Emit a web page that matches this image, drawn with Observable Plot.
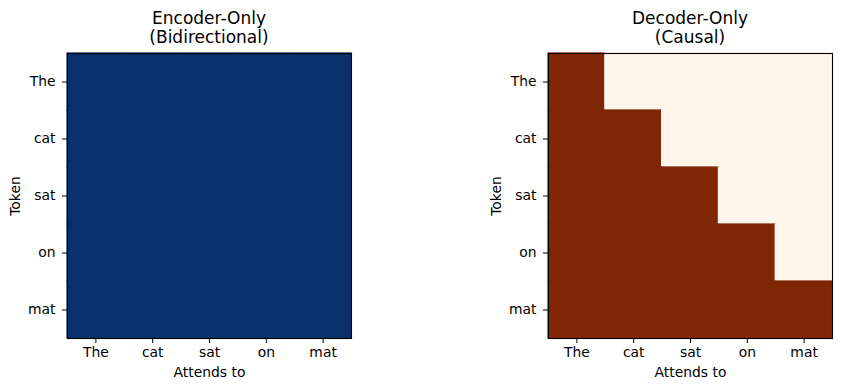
<!DOCTYPE html>
<html>
<head>
<meta charset="utf-8">
<script src="https://cdn.jsdelivr.net/npm/d3@7"></script>
<script src="https://cdn.jsdelivr.net/npm/@observablehq/plot@0.6"></script>
<style>
  body { margin: 0; background: white; }
  #wrap { position: relative; width: 841px; height: 390px; background: white; font-family: "DejaVu Sans", sans-serif; }
  .panel { position: absolute; top: 0; }
  .title { position: absolute; top: 9px; width: 300px; text-align: center; font-size: 17px; line-height: 19px; color: black; }
</style>
</head>
<body>
<div id="wrap"></div>
<script>
const tokens = ["The", "cat", "sat", "on", "mat"];
const encoderMask = [
  [1, 1, 1, 1, 1],
  [1, 1, 1, 1, 1],
  [1, 1, 1, 1, 1],
  [1, 1, 1, 1, 1],
  [1, 1, 1, 1, 1]
];
const decoderMask = [
  [1, 0, 0, 0, 0],
  [1, 1, 0, 0, 0],
  [1, 1, 1, 0, 0],
  [1, 1, 1, 1, 0],
  [1, 1, 1, 1, 1]
];
const panelTitles = ["Encoder-Only\n(Bidirectional)", "Decoder-Only\n(Causal)"];
const xLabel = "Attends to";
const yLabel = "Token";

function toTable(mask) {
  const out = [];
  mask.forEach((row, i) => row.forEach((v, j) => out.push({query: tokens[i], key: tokens[j], v})));
  return out;
}

function panel(mask, scheme, width, ml, mr) {
  return Plot.plot({
    width, height: 390,
    marginLeft: ml, marginRight: mr, marginTop: 53, marginBottom: 52,
    style: {fontFamily: "DejaVu Sans", fontSize: "13.9px", color: "black", background: "transparent"},
    x: {domain: tokens, padding: 0, round: false, label: null},
    y: {domain: tokens, padding: 0, round: false, label: null},
    color: {type: "linear", scheme, domain: [0, 1]},
    marks: [
      Plot.cell(toTable(mask), {x: "key", y: "query", fill: "v", inset: -0.6}),
      Plot.frame({stroke: "black", strokeWidth: 1.1}),
      Plot.axisX({tickSize: 5, tickPadding: 4, label: xLabel, labelAnchor: "center", labelArrow: "none", labelOffset: 38}),
      Plot.axisY({tickSize: 5, tickPadding: 7, label: yLabel, labelAnchor: "center", labelArrow: "none", labelOffset: 57})
    ]
  });
}

const wrap = document.getElementById("wrap");
const p1 = panel(encoderMask, "blues", 420, 67, 69);
p1.classList.add("panel"); p1.style.left = "0px";
wrap.appendChild(p1);
const p2 = panel(decoderMask, "oranges", 421, 128, 9);
p2.classList.add("panel"); p2.style.left = "420px";
wrap.appendChild(p2);

[[panelTitles[0], 209], [panelTitles[1], 690]].forEach(([t, cx]) => {
  const d = document.createElement("div");
  d.className = "title";
  d.style.left = (cx - 150) + "px";
  d.innerHTML = t.split("\n").join("<br>");
  wrap.appendChild(d);
});
</script>
</body>
</html>
